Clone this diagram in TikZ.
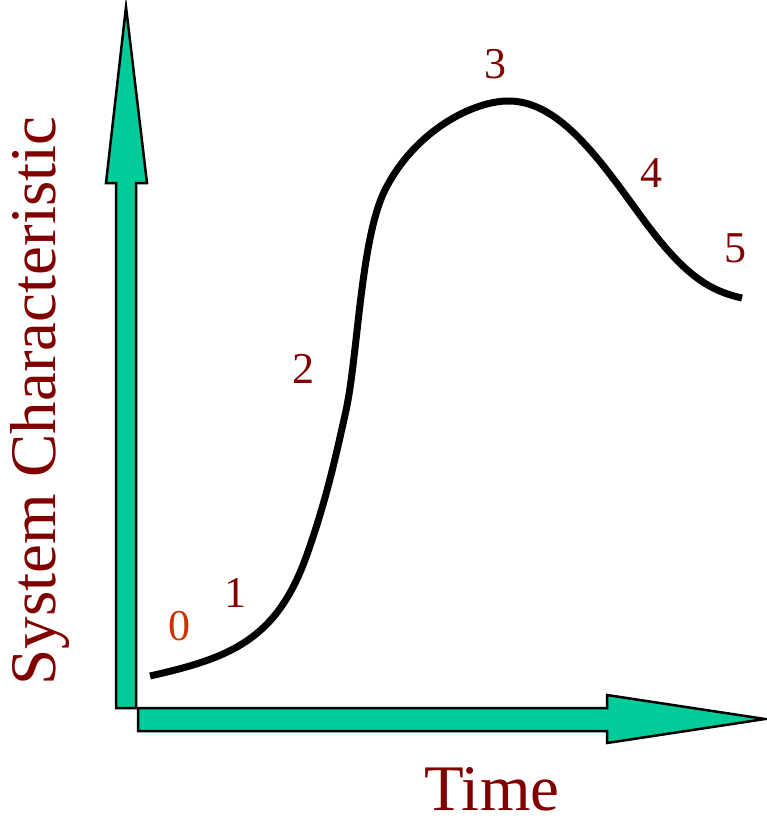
\documentclass[tikz,border=0pt]{standalone}
\usepackage{fontspec}
\setmainfont{Liberation Serif}
\definecolor{axisgreen}{HTML}{00CC99}
\definecolor{lbl}{HTML}{800000}
\definecolor{zerocol}{HTML}{CC3300}
\begin{document}
\begin{tikzpicture}[x=1pt,y=-1pt,
  axisarrow/.style={fill=axisgreen,draw=black,line width=2.5pt,line join=miter},
  num/.style={text=lbl,font=\fontsize{44}{44}\selectfont,anchor=base,inner sep=0pt},
  axlabel/.style={text=lbl,font=\fontsize{65}{65}\selectfont,anchor=base,inner sep=0pt}]
\useasboundingbox (0,0) rectangle (767,823);
% vertical axis arrow
\draw[axisarrow] (116,708) -- (136,708) -- (136,183) -- (147,183) -- (126,7) -- (106,183) -- (116,183) -- cycle;
% horizontal axis arrow
\draw[axisarrow] (138,708) -- (607,708) -- (607,695) -- (765,719) -- (607,743) -- (607,731) -- (138,731) -- cycle;
% curve
\coordinate (c0) at (150,676);
\coordinate (c1) at (305,560);
\coordinate (c2) at (345,415);
\coordinate (c3) at (385,190);
\coordinate (c4) at (510,101);
\coordinate (c5) at (640,215);
\coordinate (c6) at (742,298);
\draw[line width=7pt,line cap=butt]
  (c0) .. controls (230,658) and (275,640) .. (c1)
       .. controls (325,505) and (335,460) .. (c2)
       .. controls (358,360) and (360,240) .. (c3)
       .. controls (415,130) and (475,100) .. (c4)
       .. controls (560,102) and (600,160) .. (c5)
       .. controls (680,270) and (705,290) .. (c6);
% labels
\node[num,text=zerocol] (n0) at (179,640) {0};
\node[num] (n1) at (235,607) {1};
\node[num] (n2) at (303,383) {2};
\node[num] (n3) at (495,78) {3};
\node[num] (n4) at (651,187) {4};
\node[num] (n5) at (735,262) {5};
\node[axlabel] (time) at (492,810) {Time};
\node[axlabel,rotate=90] (sys) at (55,401) {System Characteristic};
\end{tikzpicture}
\end{document}
